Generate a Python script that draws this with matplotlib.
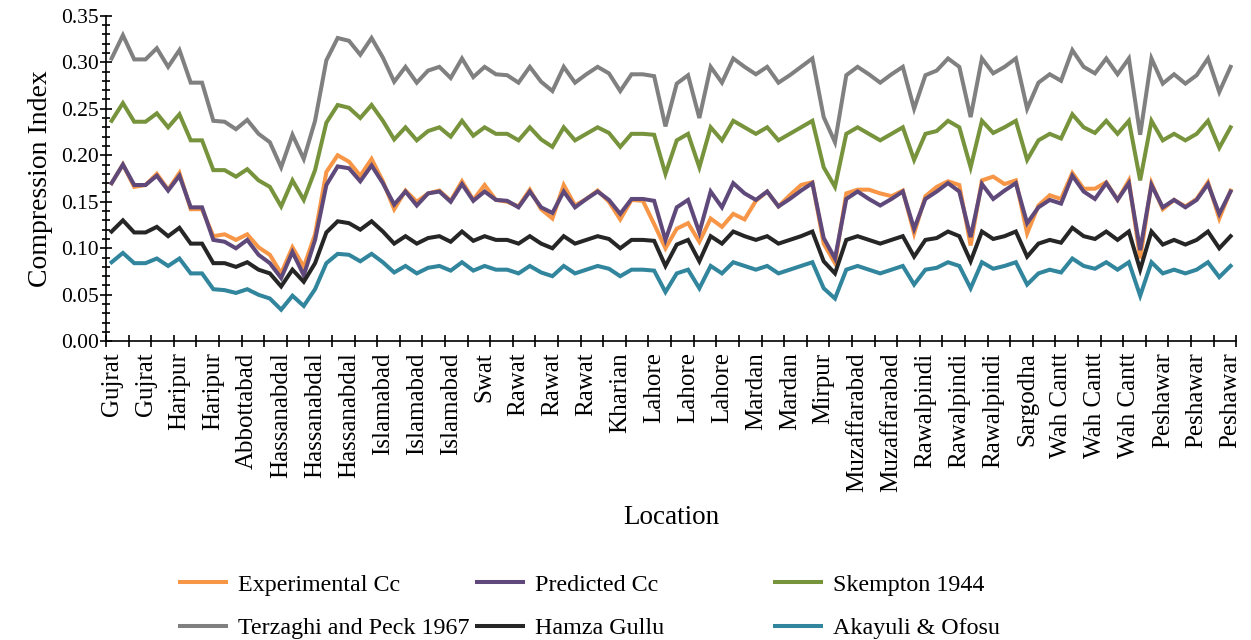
import matplotlib
matplotlib.use('Agg')
import matplotlib.pyplot as plt
import numpy as np

plt.rcParams['font.family'] = 'serif'
plt.rcParams['font.serif'] = ['Liberation Serif', 'DejaVu Serif', 'serif']

# Location names shown on the axis (every 3rd sample is labelled)
tick_locations = ['Gujrat', 'Gujrat', 'Haripur', 'Haripur', 'Abbottabad',
                  'Hassanabdal', 'Hassanabdal', 'Hassanabdal', 'Islamabad',
                  'Islamabad', 'Islamabad', 'Swat', 'Rawat', 'Rawat', 'Rawat',
                  'Kharian', 'Lahore', 'Lahore', 'Lahore', 'Mardan', 'Mardan',
                  'Mirpur', 'Muzaffarabad', 'Muzaffarabad', 'Rawalpindi',
                  'Rawalpindi', 'Rawalpindi', 'Sargodha', 'Wah Cantt',
                  'Wah Cantt', 'Wah Cantt', 'Peshawar', 'Peshawar', 'Peshawar']

# Compression index values (100 samples)
experimental_cc = [
    0.170, 0.190, 0.166, 0.168, 0.180, 0.163, 0.181, 0.142, 0.142, 0.113,
    0.115, 0.109, 0.115, 0.101, 0.093, 0.073, 0.101, 0.080, 0.115, 0.182,
    0.200, 0.193, 0.178, 0.196, 0.172, 0.142, 0.162, 0.150, 0.159, 0.162,
    0.151, 0.172, 0.152, 0.168, 0.152, 0.150, 0.145, 0.163, 0.142, 0.132,
    0.168, 0.146, 0.153, 0.162, 0.150, 0.131, 0.152, 0.151, 0.126, 0.100,
    0.121, 0.127, 0.107, 0.132, 0.123, 0.137, 0.131, 0.151, 0.161, 0.145,
    0.157, 0.168, 0.171, 0.105, 0.084, 0.159, 0.163, 0.163, 0.159, 0.156,
    0.162, 0.116, 0.156, 0.166, 0.172, 0.168, 0.103, 0.173, 0.177, 0.169,
    0.173, 0.116, 0.146, 0.157, 0.153, 0.181, 0.164, 0.164, 0.171, 0.152,
    0.173, 0.089, 0.170, 0.142, 0.152, 0.145, 0.153, 0.171, 0.132, 0.162]

predicted_cc = [
    0.170, 0.190, 0.168, 0.168, 0.178, 0.162, 0.178, 0.144, 0.144, 0.109,
    0.107, 0.100, 0.109, 0.093, 0.084, 0.068, 0.096, 0.071, 0.109, 0.168,
    0.188, 0.186, 0.172, 0.189, 0.170, 0.147, 0.161, 0.146, 0.159, 0.161,
    0.150, 0.169, 0.151, 0.161, 0.152, 0.151, 0.144, 0.161, 0.144, 0.138,
    0.161, 0.144, 0.153, 0.161, 0.152, 0.137, 0.153, 0.153, 0.151, 0.109,
    0.144, 0.152, 0.117, 0.161, 0.144, 0.170, 0.159, 0.152, 0.161, 0.145,
    0.153, 0.162, 0.170, 0.111, 0.089, 0.153, 0.161, 0.153, 0.146, 0.153,
    0.161, 0.121, 0.153, 0.161, 0.170, 0.161, 0.112, 0.169, 0.153, 0.162,
    0.170, 0.127, 0.144, 0.152, 0.148, 0.178, 0.161, 0.153, 0.170, 0.152,
    0.170, 0.098, 0.168, 0.144, 0.152, 0.144, 0.152, 0.169, 0.137, 0.161]

skempton_1944 = [
    0.237, 0.256, 0.236, 0.236, 0.245, 0.230, 0.244, 0.216, 0.216, 0.184,
    0.184, 0.177, 0.185, 0.173, 0.166, 0.145, 0.173, 0.152, 0.184, 0.235,
    0.254, 0.251, 0.240, 0.254, 0.237, 0.217, 0.230, 0.216, 0.226, 0.230,
    0.220, 0.237, 0.221, 0.230, 0.223, 0.223, 0.216, 0.230, 0.217, 0.209,
    0.230, 0.216, 0.223, 0.230, 0.224, 0.209, 0.223, 0.223, 0.222, 0.180,
    0.216, 0.223, 0.187, 0.230, 0.216, 0.237, 0.230, 0.223, 0.230, 0.216,
    0.223, 0.230, 0.237, 0.187, 0.166, 0.223, 0.230, 0.223, 0.216, 0.223,
    0.230, 0.195, 0.223, 0.226, 0.237, 0.230, 0.187, 0.237, 0.224, 0.230,
    0.237, 0.195, 0.216, 0.223, 0.218, 0.244, 0.230, 0.224, 0.237, 0.223,
    0.237, 0.173, 0.237, 0.216, 0.223, 0.216, 0.223, 0.237, 0.208, 0.230]

terzaghi_peck_1967 = [
    0.304, 0.329, 0.303, 0.303, 0.315, 0.295, 0.313, 0.278, 0.278, 0.237,
    0.236, 0.228, 0.238, 0.223, 0.214, 0.187, 0.222, 0.196, 0.237, 0.302,
    0.326, 0.323, 0.308, 0.326, 0.305, 0.279, 0.295, 0.278, 0.291, 0.295,
    0.283, 0.304, 0.284, 0.295, 0.287, 0.286, 0.278, 0.295, 0.279, 0.269,
    0.295, 0.278, 0.287, 0.295, 0.288, 0.269, 0.287, 0.287, 0.285, 0.231,
    0.277, 0.286, 0.240, 0.295, 0.278, 0.304, 0.295, 0.287, 0.295, 0.278,
    0.286, 0.295, 0.304, 0.241, 0.214, 0.286, 0.295, 0.287, 0.278, 0.287,
    0.295, 0.250, 0.286, 0.291, 0.304, 0.295, 0.241, 0.304, 0.288, 0.295,
    0.304, 0.250, 0.278, 0.287, 0.280, 0.313, 0.295, 0.288, 0.304, 0.287,
    0.304, 0.222, 0.304, 0.277, 0.287, 0.277, 0.286, 0.304, 0.268, 0.295]

hamza_gullu = [
    0.118, 0.130, 0.117, 0.117, 0.123, 0.113, 0.122, 0.105, 0.105, 0.084,
    0.084, 0.080, 0.085, 0.077, 0.073, 0.059, 0.077, 0.064, 0.084, 0.117,
    0.129, 0.127, 0.120, 0.129, 0.118, 0.105, 0.113, 0.105, 0.111, 0.113,
    0.107, 0.118, 0.108, 0.113, 0.109, 0.109, 0.105, 0.113, 0.105, 0.100,
    0.113, 0.105, 0.109, 0.113, 0.110, 0.100, 0.109, 0.109, 0.108, 0.081,
    0.104, 0.109, 0.086, 0.113, 0.105, 0.118, 0.113, 0.109, 0.113, 0.105,
    0.109, 0.113, 0.118, 0.086, 0.073, 0.109, 0.113, 0.109, 0.105, 0.109,
    0.113, 0.091, 0.109, 0.111, 0.118, 0.113, 0.086, 0.118, 0.110, 0.113,
    0.118, 0.091, 0.105, 0.109, 0.106, 0.122, 0.113, 0.110, 0.118, 0.109,
    0.118, 0.077, 0.118, 0.104, 0.109, 0.104, 0.109, 0.118, 0.100, 0.113]

akayuli_ofosu = [
    0.085, 0.095, 0.084, 0.084, 0.089, 0.081, 0.089, 0.073, 0.073, 0.056,
    0.055, 0.052, 0.056, 0.050, 0.046, 0.034, 0.049, 0.038, 0.056, 0.084,
    0.094, 0.093, 0.086, 0.094, 0.085, 0.074, 0.081, 0.073, 0.079, 0.081,
    0.076, 0.085, 0.076, 0.081, 0.077, 0.077, 0.073, 0.081, 0.074, 0.070,
    0.081, 0.073, 0.077, 0.081, 0.078, 0.070, 0.077, 0.077, 0.076, 0.053,
    0.073, 0.077, 0.057, 0.081, 0.073, 0.085, 0.081, 0.077, 0.081, 0.073,
    0.077, 0.081, 0.085, 0.057, 0.046, 0.077, 0.081, 0.077, 0.073, 0.077,
    0.081, 0.061, 0.077, 0.079, 0.085, 0.081, 0.057, 0.085, 0.078, 0.081,
    0.085, 0.061, 0.073, 0.077, 0.074, 0.089, 0.081, 0.078, 0.085, 0.077,
    0.085, 0.049, 0.085, 0.073, 0.077, 0.073, 0.077, 0.085, 0.069, 0.081]

series = [
    ('Experimental Cc', experimental_cc, '#F79646'),
    ('Predicted Cc', predicted_cc, '#5F497A'),
    ('Skempton 1944', skempton_1944, '#77933C'),
    ('Terzaghi and Peck 1967', terzaghi_peck_1967, '#808080'),
    ('Hamza Gullu', hamza_gullu, '#262626'),
    ('Akayuli & Ofosu', akayuli_ofosu, '#31859C'),
]

n = len(experimental_cc)
x = np.arange(n)

fig = plt.figure(figsize=(12.51, 6.40), dpi=100)
ax = fig.add_axes([0.0847, 0.4667, 0.9035, 0.5088])

lines = []
for name, vals, col in series:
    ln, = ax.plot(x, vals, color=col, linewidth=2.9, label=name,
                  solid_joinstyle='miter')
    lines.append(ln)

ax.set_xlim(-0.5, n - 0.5)
ax.set_ylim(0, 0.35)

# y axis
ax.set_yticks(np.arange(0, 0.351, 0.05))
ax.set_yticks(np.arange(0, 0.351, 0.01), minor=True)
ax.yaxis.set_major_formatter(plt.FormatStrFormatter('%.2f'))
ax.tick_params(axis='y', which='major', direction='inout', length=8,
               width=1.2, labelsize=15.5, pad=1)
ax.tick_params(axis='y', which='minor', direction='inout', length=6, width=1.2)

# x axis: labels on every 3rd sample, tick marks every 2 samples
ax.set_xticks(np.arange(0, n, 3))
ax.set_xticklabels(tick_locations, rotation=90)
ax.set_xticks(np.arange(-0.5, n, 2), minor=True)
ax.tick_params(axis='x', which='major', length=0, labelsize=18, pad=8)
ax.tick_params(axis='x', which='minor', direction='inout', length=8, width=1.2)

for s in ['top', 'right']:
    ax.spines[s].set_visible(False)
for s in ['left', 'bottom']:
    ax.spines[s].set_linewidth(1.2)

ax.set_ylabel('Compression Index', fontsize=20, labelpad=6)
ax.set_xlabel('Location', fontsize=19.5, labelpad=9)

# legend in three equally spaced columns
col_x = [180, 477, 775]
for k in range(3):
    fig.legend([lines[k], lines[k + 3]], [series[k][0], series[k + 3][0]],
               loc='upper left', bbox_to_anchor=(col_x[k] / 1251, 1 - 574 / 640),
               frameon=False, fontsize=17.3, handlelength=1.9, handletextpad=0.5,
               borderpad=0, borderaxespad=0, labelspacing=0.9)

fig.savefig('out.png', dpi=100)
